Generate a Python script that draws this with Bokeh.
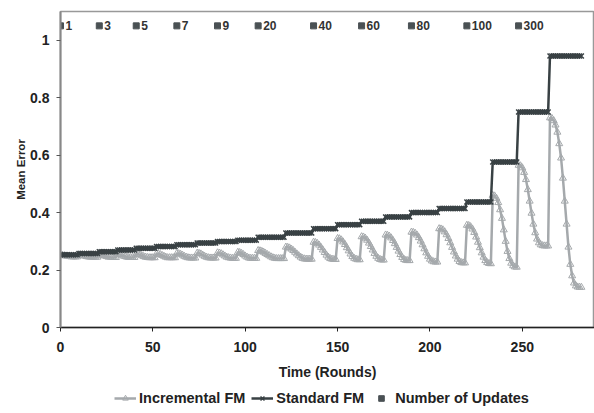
import numpy as np
from bokeh.plotting import figure
from bokeh.layouts import column
from bokeh.models import Range1d, FixedTicker, CustomJSTickFormatter, Legend, LegendItem
from bokeh.core.properties import value
from bokeh.embed import file_html
from bokeh.resources import INLINE

# ---- data ----
seg_starts = [0, 10, 21, 31, 41, 52, 63, 74, 85, 96, 107, 122, 137, 150, 163, 176, 190, 205, 220, 234, 248, 265, 283]
std_levels = [0.253, 0.258, 0.264, 0.27, 0.276, 0.282, 0.288, 0.294, 0.299, 0.304, 0.314, 0.329, 0.344, 0.358, 0.37, 0.385, 0.40, 0.414, 0.437, 0.576, 0.75, 0.945]

inc_segments = [
    [0.252, 0.251, 0.25, 0.249, 0.248, 0.247, 0.246, 0.246, 0.246, 0.246],
    [0.253, 0.252, 0.251, 0.249, 0.247, 0.246, 0.245, 0.245, 0.245, 0.245, 0.245],
    [0.254, 0.253, 0.251, 0.249, 0.247, 0.245, 0.245, 0.244, 0.244, 0.244],
    [0.255, 0.254, 0.252, 0.249, 0.247, 0.245, 0.244, 0.244, 0.244, 0.244],
    [0.256, 0.255, 0.253, 0.25, 0.247, 0.245, 0.244, 0.243, 0.243, 0.243, 0.243],
    [0.257, 0.256, 0.254, 0.251, 0.248, 0.245, 0.243, 0.243, 0.243, 0.243, 0.243],
    [0.258, 0.257, 0.255, 0.252, 0.248, 0.245, 0.243, 0.242, 0.242, 0.242, 0.242],
    [0.259, 0.258, 0.256, 0.252, 0.248, 0.245, 0.243, 0.242, 0.242, 0.242, 0.242],
    [0.26, 0.259, 0.257, 0.253, 0.249, 0.245, 0.243, 0.242, 0.241, 0.241, 0.241],
    [0.262, 0.261, 0.258, 0.254, 0.249, 0.245, 0.242, 0.241, 0.241, 0.241, 0.241],
    [0.268, 0.267, 0.265, 0.262, 0.258, 0.254, 0.25, 0.246, 0.243, 0.241, 0.24, 0.24, 0.24, 0.24, 0.24],
    [0.28, 0.279, 0.277, 0.273, 0.268, 0.262, 0.256, 0.25, 0.245, 0.241, 0.239, 0.238, 0.238, 0.238, 0.238],
    [0.297, 0.296, 0.293, 0.287, 0.279, 0.27, 0.261, 0.252, 0.245, 0.24, 0.238, 0.237, 0.237],
    [0.31, 0.309, 0.305, 0.298, 0.289, 0.278, 0.267, 0.256, 0.247, 0.241, 0.238, 0.236, 0.236],
    [0.316, 0.315, 0.311, 0.304, 0.294, 0.282, 0.27, 0.258, 0.248, 0.241, 0.237, 0.235, 0.235],
    [0.322, 0.321, 0.318, 0.312, 0.303, 0.292, 0.279, 0.266, 0.254, 0.244, 0.237, 0.234, 0.233, 0.233],
    [0.332, 0.331, 0.328, 0.322, 0.313, 0.301, 0.288, 0.274, 0.26, 0.248, 0.238, 0.232, 0.229, 0.228, 0.228],
    [0.344, 0.343, 0.34, 0.333, 0.323, 0.31, 0.295, 0.279, 0.263, 0.249, 0.238, 0.23, 0.226, 0.225, 0.225],
    [0.356, 0.355, 0.351, 0.343, 0.331, 0.315, 0.297, 0.278, 0.26, 0.245, 0.233, 0.226, 0.223, 0.222],
    [0.46, 0.458, 0.45, 0.435, 0.41, 0.38, 0.34, 0.30, 0.265, 0.24, 0.224, 0.215, 0.211, 0.21],
    [0.565, 0.563, 0.556, 0.54, 0.515, 0.48, 0.44, 0.398, 0.36, 0.33, 0.308, 0.295, 0.288, 0.285, 0.284, 0.284, 0.284],
    [0.73, 0.728, 0.72, 0.705, 0.68, 0.64, 0.59, 0.52, 0.44, 0.36, 0.28, 0.22, 0.18, 0.155, 0.145, 0.141, 0.14, 0.14],
]

upd_x = [0, 21, 41, 63, 85, 107, 137, 163, 190, 220, 248]
upd_y = [1.05] * len(upd_x)
upd_labels = ["1", "3", "5", "7", "9", "20", "40", "60", "80", "100", "300"]

y_ticks = [0, 0.2, 0.4, 0.6, 0.8, 1]
x_ticks = [0, 50, 100, 150, 200, 250]

# ---- build series ----
rounds = np.arange(seg_starts[0], seg_starts[-1])
std = np.repeat(std_levels, np.diff(seg_starts))
inc = np.concatenate([np.array(s) for s in inc_segments])

FONT = "Liberation Sans"
STD_C = "#394144"
INC_C = "#a5a9ac"
SQ_C = "#4a5154"
TXT_C = "#222222"

p = figure(width=594, height=385, output_backend="svg", toolbar_location=None,
           x_range=Range1d(0, 289.1), y_range=Range1d(0, 1.1),
           min_border_left=60, min_border_right=0, min_border_top=11, min_border_bottom=58)
p.xgrid.visible = False
p.ygrid.visible = False
p.outline_line_color = "#999999"
p.outline_line_width = 1.5
p.background_fill_color = "white"
p.border_fill_color = "white"


def draw_series(fig, xs, ys_inc, ys_std, xs_u, ys_u):
    il = fig.line(xs, ys_inc, line_color=INC_C, line_width=2.5)
    isc = fig.scatter(xs, ys_inc, marker="triangle", size=7, line_color=INC_C, fill_alpha=0, line_width=1)
    sl = fig.line(xs, ys_std, line_color=STD_C, line_width=2.5)
    ssc = fig.scatter(xs, ys_std, marker="x", size=7, line_color=STD_C, line_width=1.5)
    us = fig.scatter(xs_u, ys_u, marker="square", size=6, color=SQ_C)
    return il, isc, sl, ssc, us


draw_series(p, rounds, inc, std, upd_x, upd_y)
p.text(x=upd_x, y=upd_y, text=upd_labels, x_offset=5, text_baseline="middle", text_align="left",
       text_font=value(FONT), text_font_style="bold", text_font_size="12px", text_color="#333333")

# axes
xa = p.xaxis[0]
xa.ticker = FixedTicker(ticks=x_ticks)
xa.axis_label = "Time (Rounds)"
ya = p.yaxis[0]
ya.ticker = FixedTicker(ticks=y_ticks)
ya.formatter = CustomJSTickFormatter(code="return String(Math.round(tick*10)/10)")
ya.axis_label = "Mean Error"
for ax in (xa, ya):
    ax.minor_tick_line_color = None
    ax.major_tick_out = 4
    ax.major_tick_in = 0
    ax.major_label_text_font = FONT
    ax.major_label_text_font_style = "bold"
    ax.major_label_text_font_size = "14px"
    ax.major_label_text_color = TXT_C
    ax.axis_label_text_font = FONT
    ax.axis_label_text_font_style = "bold"
    ax.axis_label_text_color = TXT_C
xa.axis_line_color = TXT_C
xa.axis_line_width = 1.5
xa.major_tick_line_color = TXT_C
xa.major_label_standoff = 10
xa.axis_label_text_font_size = "14px"
xa.axis_label_standoff = 9
ya.axis_line_color = "#888888"
ya.axis_line_width = 2
ya.major_tick_line_color = "#555555"
ya.major_label_standoff = 7
ya.axis_label_text_font_size = "11.5px"
ya.axis_label_standoff = 0

# legend row (separate strip under the chart, same glyph styles; its one hidden point lies off-range)
p2 = figure(width=594, height=28, output_backend="svg", toolbar_location=None, min_border=0,
            x_range=Range1d(0, 1), y_range=Range1d(0, 1))
p2.axis.visible = False
p2.xgrid.visible = False
p2.ygrid.visible = False
p2.outline_line_color = None
p2.border_fill_color = "white"
off = [-10]
il, isc, sl, ssc, us = draw_series(p2, off, off, off, off, off)
legend = Legend(items=[
    LegendItem(label="Incremental FM", renderers=[il, isc]),
    LegendItem(label="Standard FM", renderers=[sl, ssc]),
    LegendItem(label="Number of Updates", renderers=[us]),
], orientation="horizontal", location=(54, 7), border_line_color=None, background_fill_alpha=0,
    label_text_font=FONT, label_text_font_style="bold", label_text_font_size="14.5px",
    label_text_color=TXT_C, glyph_width=22, glyph_height=14, spacing=6, label_standoff=3,
    padding=0, margin=0)
p2.add_layout(legend, "center")

layout = column(p, p2, spacing=0)
open("out.html", "w").write(file_html(layout, INLINE))
